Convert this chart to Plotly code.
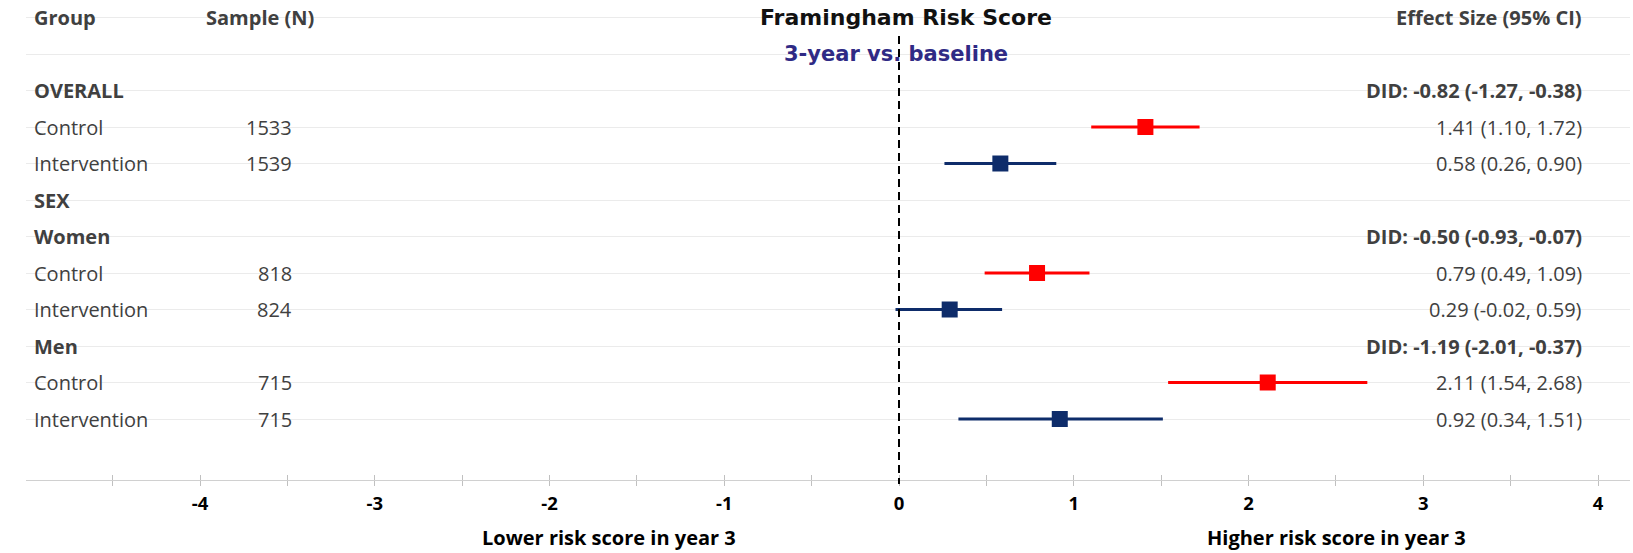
import plotly.graph_objects as go

# ---------------- data ----------------
row_labels = ["OVERALL", "Control", "Intervention", "SEX", "Women",
              "Control", "Intervention", "Men", "Control", "Intervention"]
row_bold = [True, False, False, True, True, False, False, True, False, False]
sample_n = ["", "1533", "1539", "", "", "818", "824", "", "715", "715"]
effect_text = ["DID: -0.82 (-1.27, -0.38)", "1.41 (1.10, 1.72)", "0.58 (0.26, 0.90)", "",
               "DID: -0.50 (-0.93, -0.07)", "0.79 (0.49, 1.09)", "0.29 (-0.02, 0.59)",
               "DID: -1.19 (-2.01, -0.37)", "2.11 (1.54, 2.68)", "0.92 (0.34, 1.51)"]

# estimates: Overall, Women, Men
control_est = [1.41, 0.79, 2.11]
control_lo = [1.10, 0.49, 1.54]
control_hi = [1.72, 1.09, 2.68]
interv_est = [0.58, 0.29, 0.92]
interv_lo = [0.26, -0.02, 0.34]
interv_hi = [0.90, 0.59, 1.51]

tick_vals = [-5, -4, -3, -2, -1, 0, 1, 2, 3, 4]
tick_text = ["", "-4", "-3", "-2", "-1", "0", "1", "2", "3", "4"]

title_text = "Framingham Risk Score"
subtitle_text = "3-year vs. baseline"
header_group = "Group"
header_n = "Sample (N)"
header_eff = "Effect Size (95% CI)"
lower_label = "Lower risk score in year 3"
higher_label = "Higher risk score in year 3"

# ---------------- layout geometry ----------------
W, H = 1633, 553
ML, MR, MT = 26, 3, 0
AXIS_Y = 480
MB = H - AXIS_Y
ROW0 = 17.5
ROWH = 36.5
PLOT_W = W - ML - MR
ZERO_PX = 899
UNIT = 174.75

x_range = [(ML - ZERO_PX) / UNIT, (W - MR - ZERO_PX) / UNIT]
y_range = [(AXIS_Y - ROW0) / ROWH, (0 - ROW0) / ROWH]


def px_x(px):
    return (px - ML) / PLOT_W


def px_y(py):
    return 1 - py / AXIS_Y


data_rows = list(range(2, 2 + len(row_labels)))
ctrl_rows = [data_rows[i] for i, l in enumerate(row_labels) if l == "Control"]
int_rows = [data_rows[i] for i, l in enumerate(row_labels) if l == "Intervention"]

RED = "#FF0000"
NAVY = "#0E2C6A"
TXT = "#404040"
BODY_FONT = "Open Sans"
BODY_SIZE = 20

fig = go.Figure()

fig.add_trace(go.Scatter(
    x=control_est, y=ctrl_rows, mode="markers",
    marker=dict(symbol="square", size=16, color=RED),
    error_x=dict(type="data", symmetric=False,
                 array=[h - e for h, e in zip(control_hi, control_est)],
                 arrayminus=[e - l for e, l in zip(control_est, control_lo)],
                 color=RED, thickness=3, width=0),
    showlegend=False, hoverinfo="skip"))

fig.add_trace(go.Scatter(
    x=interv_est, y=int_rows, mode="markers",
    marker=dict(symbol="square", size=16, color=NAVY),
    error_x=dict(type="data", symmetric=False,
                 array=[h - e for h, e in zip(interv_hi, interv_est)],
                 arrayminus=[e - l for e, l in zip(interv_est, interv_lo)],
                 color=NAVY, thickness=3, width=0),
    showlegend=False, hoverinfo="skip"))

annotations = []


def ann(text, xpx, row, anchor, size=BODY_SIZE, bold=False, color=TXT, family=BODY_FONT):
    annotations.append(dict(
        text=f"<b>{text}</b>" if bold else text,
        x=px_x(xpx), xref="paper", y=row, yref="y",
        xanchor=anchor, yanchor="middle", showarrow=False,
        font=dict(family=family, size=size, color=color)))


# header row
ann(header_group, 32, 0, "left", bold=True)
ann(header_n, 204, 0, "left", bold=True)
ann(header_eff, 1584, 0, "right", bold=True)
ann(title_text, 906, 0, "center", size=22, bold=True, color="#111111", family="DejaVu Sans")
ann(subtitle_text, 896, 1, "center", size=21, bold=True, color="#2F2A85", family="DejaVu Sans")

for r, lab, b, n, e in zip(data_rows, row_labels, row_bold, sample_n, effect_text):
    ann(lab, 32, r, "left", bold=b)
    if n:
        ann(n, 294, r, "right")
    if e:
        ann(e, 1584, r, "right", bold=e.startswith("DID"))

# bottom direction labels
for txt, cx in [(lower_label, 609), (higher_label, 1336)]:
    annotations.append(dict(
        text=f"<b>{txt}</b>", x=px_x(cx), xref="paper", y=px_y(537), yref="paper",
        xanchor="center", yanchor="middle", showarrow=False, borderpad=0,
        font=dict(family=BODY_FONT, size=20, color="#000000")))

shapes = [dict(type="line", xref="x", x0=0, x1=0, yref="paper",
               y0=px_y(36), y1=px_y(484),
               line=dict(color="#000000", width=2, dash="8px,5px"))]

fig.update_layout(
    width=W, height=H,
    margin=dict(l=ML, r=MR, t=MT, b=MB, pad=0),
    paper_bgcolor="white", plot_bgcolor="white",
    annotations=annotations, shapes=shapes,
    xaxis=dict(range=x_range, showgrid=False, zeroline=False,
               showline=True, linecolor="#D0D0D0", linewidth=1,
               tickmode="array", tickvals=tick_vals, ticktext=tick_text,
               ticks="outside", ticklen=5, tickcolor="#C0C0C0", tickwidth=1,
               minor=dict(dtick=0.5, tick0=0, ticks="outside", ticklen=5,
                          tickcolor="#C0C0C0", tickwidth=1, showgrid=False),
               tickfont=dict(family=BODY_FONT, size=18.5, color="#000000", weight="bold"),
               ticklabelstandoff=2, fixedrange=True),
    xaxis2=dict(range=x_range, overlaying="x", anchor="y", side="bottom",
                showgrid=False, zeroline=False, showline=False,
                tickmode="array", tickvals=tick_vals, ticktext=["" for _ in tick_vals],
                ticks="inside", ticklen=5, tickcolor="#C0C0C0", tickwidth=1,
                minor=dict(dtick=0.5, tick0=0, ticks="inside", ticklen=5,
                           tickcolor="#C0C0C0", tickwidth=1, showgrid=False),
                showticklabels=False),
    yaxis=dict(range=y_range, tickmode="array", tickvals=list(range(0, 12)),
               showticklabels=False, showgrid=True, gridcolor="#EBEBEB", gridwidth=1,
               zeroline=False, showline=False, ticks=""),
)

# dummy trace to activate xaxis2
fig.add_trace(go.Scatter(x=[None], y=[None], xaxis="x2", yaxis="y",
                         showlegend=False, hoverinfo="skip"))

fig.write_html("out.html", config={"displayModeBar": False},
               post_script="document.body.style.margin='0';document.body.style.overflow='hidden';")
